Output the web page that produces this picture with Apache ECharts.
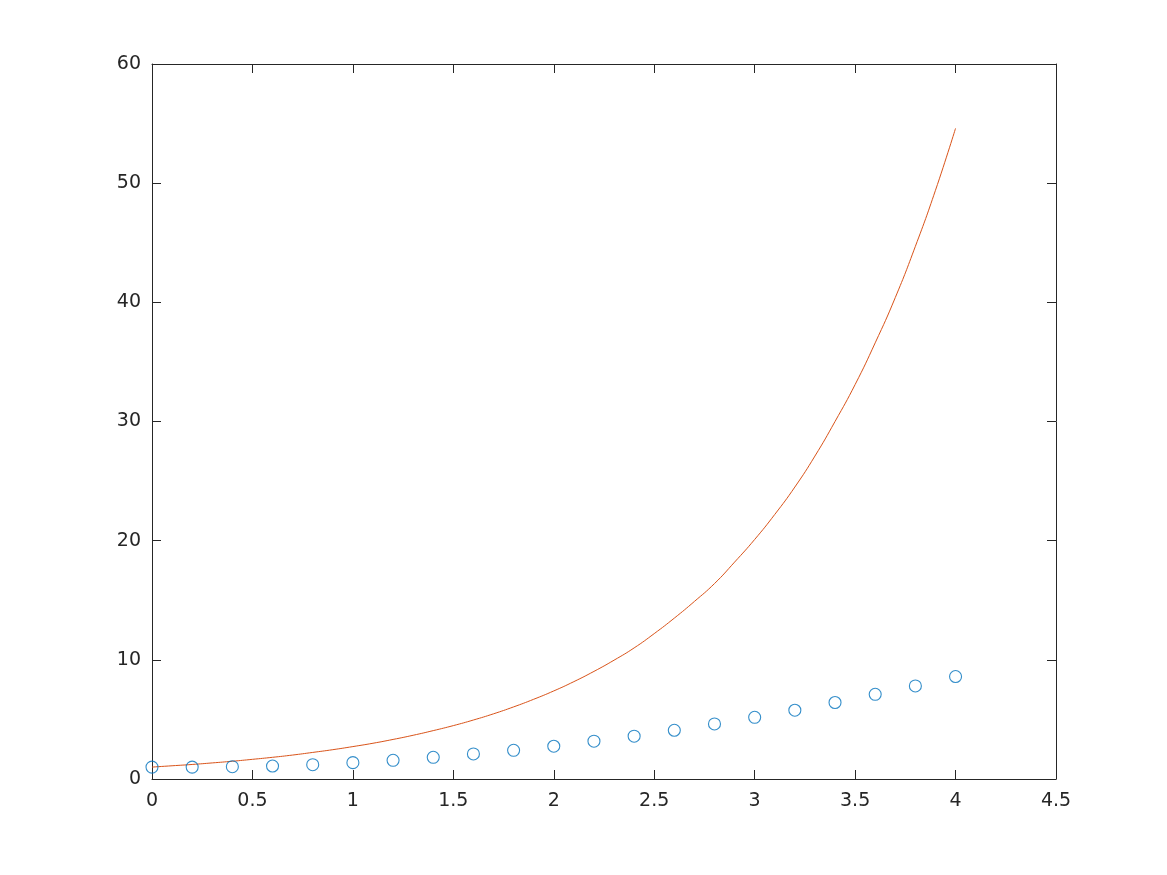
<!DOCTYPE html>
<html>
<head>
<meta charset="utf-8">
<script src="https://cdn.jsdelivr.net/npm/echarts@6/dist/echarts.min.js"></script>
<style>
html,body{margin:0;padding:0;background:#fff;}
#chart{width:1167px;height:875px;}
</style>
</head>
<body>
<div id="chart"></div>
<script>
// Circle markers (x)
var circleX = [0,0.2,0.4,0.6,0.8,1.0,1.2,1.4,1.6,1.8,2.0,2.2,2.4,2.6,2.8,3.0,3.2,3.4,3.6,3.8,4.0];
var circleY = [1.00,1.00,1.03,1.09,1.20,1.37,1.57,1.82,2.10,2.41,2.75,3.17,3.59,4.09,4.62,5.18,5.77,6.42,7.11,7.81,8.60];

// Orange curve (x)
var lineX = [0,0.1,0.2,0.3,0.4,0.5,0.6,0.7,0.8,0.9,1.0,1.1,1.2,1.3,1.4,1.5,1.6,1.7,1.8,1.9,2.0,2.1,2.2,2.3,2.4,2.5,2.6,2.7,2.8,2.9,3.0,3.1,3.2,3.3,3.4,3.5,3.6,3.7,3.8,3.9,4.0];
var lineY = [1.00,1.11,1.22,1.35,1.49,1.65,1.82,2.01,2.23,2.46,2.72,3.00,3.32,3.67,4.06,4.48,4.95,5.47,6.05,6.69,7.39,8.17,9.03,9.97,11.0,12.2,13.5,14.9,16.4,18.2,20.1,22.2,24.5,27.1,30.0,33.1,36.6,40.4,44.7,49.4,54.6];

var xMin = 0, xMax = 4.5, xStep = 0.5;
var yMin = 0, yMax = 60, yStep = 10;

function zip(a, b){ return a.map(function(v,i){ return [v, b[i]]; }); }

var axisColor = '#262626';
var labelStyle = {color: axisColor, fontFamily: 'DejaVu Sans', fontSize: 19};

var chart = echarts.init(document.getElementById('chart'), null, {renderer: 'canvas'});
chart.setOption({
  backgroundColor: '#ffffff',
  animation: false,
  grid: {left: 152, top: 64, right: 111, bottom: 96, containLabel: false},
  xAxis: [
    {type: 'value', min: xMin, max: xMax, interval: xStep, position: 'bottom',
     axisLine: {show: true, onZero: false, lineStyle: {color: axisColor, width: 1}},
     axisTick: {show: true, inside: true, length: 9, lineStyle: {color: axisColor}},
     axisLabel: Object.assign({margin: 13}, labelStyle),
     splitLine: {show: false}},
    {type: 'value', min: xMin, max: xMax, interval: xStep, position: 'top',
     axisLine: {show: true, onZero: false, lineStyle: {color: axisColor, width: 1}},
     axisTick: {show: true, inside: true, length: 9, lineStyle: {color: axisColor}},
     axisLabel: {show: false}, splitLine: {show: false}}
  ],
  yAxis: [
    {type: 'value', min: yMin, max: yMax, interval: yStep, position: 'left',
     axisLine: {show: true, onZero: false, lineStyle: {color: axisColor, width: 1}},
     axisTick: {show: true, inside: true, length: 9, lineStyle: {color: axisColor}},
     axisLabel: Object.assign({margin: 11}, labelStyle),
     splitLine: {show: false}},
    {type: 'value', min: yMin, max: yMax, interval: yStep, position: 'right',
     axisLine: {show: true, onZero: false, lineStyle: {color: axisColor, width: 1}},
     axisTick: {show: true, inside: true, length: 9, lineStyle: {color: axisColor}},
     axisLabel: {show: false}, splitLine: {show: false}}
  ],
  series: [
    {type: 'scatter', name: 'circles', xAxisIndex: 0, yAxisIndex: 0,
     data: zip(circleX, circleY),
     symbol: 'circle', symbolSize: 12,
     itemStyle: {color: 'rgba(255,255,255,0)', borderColor: '#0072BD', borderWidth: 1.1},
     z: 3},
    {type: 'line', name: 'curve', xAxisIndex: 0, yAxisIndex: 0,
     data: zip(lineX, lineY),
     smooth: true, showSymbol: false, symbol: 'none',
     lineStyle: {color: '#D95319', width: 1},
     z: 2}
  ]
});
</script>
</body>
</html>
